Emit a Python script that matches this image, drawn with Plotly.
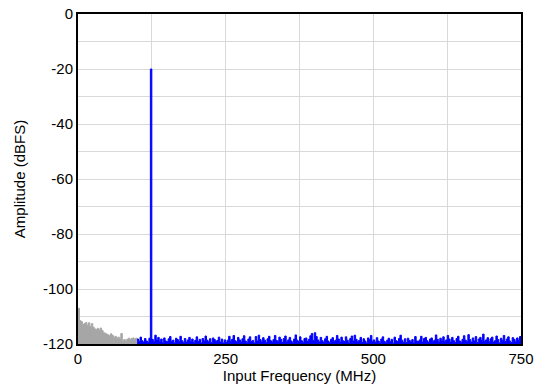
import plotly.graph_objects as go

# Frequency grid step (MHz)
step = 2.5

# Low-frequency (gray) segment: 0 .. 100 MHz
gray_freq = [i * step for i in range(41)]
gray_amp = [-107.0, -111.5, -111.9, -112.9, -112.6, -112.2, -113.2, -112.3, -113.6, -112.6,
            -113.9, -114.5, -114.8, -114.3, -114.9, -114.2, -115.1, -115.9, -116.1, -116.4,
            -116.7, -117.0, -116.3, -116.9, -117.6, -117.2, -117.9, -117.5, -118.1, -116.2,
            -118.8, -118.4, -119.0, -118.3, -117.9, -118.4, -118.0, -117.8, -118.3, -117.9,
            -118.2]

# Main (blue) segment: 100 .. 750 MHz
blue_freq = [100 + i * step for i in range(261)]
blue_amp = [
    -118.2, -119.0, -117.5, -118.8, -119.3, -118.0, -118.9, -119.4, -117.9, -20.0,
    -118.3, -119.1, -116.8, -118.5, -117.6, -119.0, -118.2, -119.5, -117.8, -118.9,
    -119.2, -118.1, -117.3, -119.0, -118.6, -119.6, -117.9, -118.4, -119.1, -117.2,
    -118.8, -119.4, -118.0, -119.3, -118.5, -117.6, -119.0, -118.2, -119.5, -118.7,
    -117.4, -119.1, -118.3, -119.6, -118.0, -118.9, -117.1, -118.6, -119.2, -118.1,
    -119.5, -117.8, -118.4, -119.0, -118.7, -117.5, -119.3, -118.2, -119.6, -118.5,
    -119.4, -118.6, -117.2, -119.0, -118.3, -116.9, -118.8, -119.2, -117.6, -118.5,
    -119.3, -118.1, -117.0, -118.9, -119.5, -118.2, -117.4, -119.1, -118.7, -119.6,
    -117.3, -118.9, -116.8, -118.4, -119.2, -117.7, -118.6, -119.5, -118.1, -117.2,
    -118.8, -119.3, -118.4, -116.9, -118.7, -119.0, -117.5, -118.3, -119.4, -118.0,
    -117.1, -119.2, -118.5, -117.6, -118.9, -119.5, -118.2, -116.7, -118.6, -119.1,
    -117.4, -118.8, -119.4, -118.0, -117.8, -119.0, -118.3, -117.0, -116.2, -118.7,
    -115.9, -117.3, -118.5, -119.2, -117.6, -118.8, -119.4, -118.1, -117.2, -118.9,
    -119.5, -118.3, -117.7, -119.0, -118.6, -116.9, -118.2, -119.3, -117.5, -118.8,
    -119.1, -117.4, -118.6, -119.5, -118.0, -117.1, -118.9, -116.8, -118.3, -119.2,
    -118.7, -117.6, -119.4, -118.1, -118.9, -119.6, -117.8, -118.4, -116.9, -119.0,
    -118.5, -119.3, -117.7, -118.9, -119.6, -118.2, -117.4, -119.0, -119.5, -118.6,
    -117.9, -119.2, -118.3, -119.7, -117.5, -118.8, -119.1, -118.0, -116.8, -118.6,
    -119.4, -118.1, -119.5, -117.9, -118.7, -119.2, -118.4, -119.6, -117.3, -118.9,
    -119.1, -118.5, -117.2, -119.3, -118.0, -117.6, -118.8, -119.4, -118.2, -117.8,
    -119.0, -118.6, -116.7, -118.3, -119.2, -117.9, -118.7, -117.4, -119.1, -118.5,
    -116.9, -118.2, -119.3, -117.6, -118.8, -119.5, -118.0, -117.2, -118.9, -119.4,
    -118.3, -117.0, -118.6, -119.1, -116.6, -118.4, -119.3, -117.8, -118.9, -117.3,
    -119.5, -118.2, -117.6, -118.7, -116.4, -119.0, -118.5, -117.7, -119.2, -118.1,
    -117.5, -119.3, -118.8, -117.1, -118.4, -119.6, -117.9, -118.6, -116.9, -119.1,
    -118.2, -117.4, -118.9, -119.5, -117.7, -118.3, -119.2, -117.8, -118.6, -117.3,
    -118.0,
]

floor_db = -120
x_ticks = [0, 250, 500, 750]
y_ticks = [0, -20, -40, -60, -80, -100, -120]

GRAY = "#A6A6A6"
BLUE = "#0000FF"

fig = go.Figure()

def add_segment(xs, ys, color):
    fig.add_trace(go.Scatter(x=xs, y=[floor_db] * len(xs), mode="lines",
                             line=dict(width=0, shape="hv"), hoverinfo="skip",
                             showlegend=False))
    fig.add_trace(go.Scatter(x=xs, y=ys, mode="lines", fill="tonexty",
                             fillcolor=color, line=dict(color=color, width=1, shape="hv"),
                             showlegend=False))

add_segment(gray_freq, gray_amp, GRAY)
add_segment(blue_freq, blue_amp, BLUE)

font_family = "Liberation Sans, Arial, sans-serif"

fig.update_layout(
    width=541, height=389,
    margin=dict(l=78, r=20, t=14, b=45, autoexpand=False),
    paper_bgcolor="white", plot_bgcolor="white",
    font=dict(family=font_family, size=15, color="black"),
    showlegend=False,
)

fig.update_xaxes(
    range=[0, 750], tickvals=x_ticks, ticktext=[str(v) for v in x_ticks],
    showgrid=True, gridcolor="#D9D9D9", gridwidth=1,
    minor=dict(dtick=125, tick0=0, showgrid=True, gridcolor="#D9D9D9", gridwidth=1),
    showline=True, linecolor="black", linewidth=2, mirror=True,
    ticks="", zeroline=False, automargin=False,
    title=dict(text="Input Frequency (MHz)", standoff=4, font=dict(size=15)),
    tickfont=dict(size=15),
)
fig.update_yaxes(
    range=[-120, 0], tickvals=y_ticks, ticktext=[str(v) for v in y_ticks],
    showgrid=True, gridcolor="#D9D9D9", gridwidth=1,
    minor=dict(dtick=10, tick0=0, showgrid=True, gridcolor="#D9D9D9", gridwidth=1),
    showline=True, linecolor="black", linewidth=2, mirror=True,
    ticks="", zeroline=False, automargin=False,
    title=dict(text="Amplitude (dBFS)", standoff=14, font=dict(size=15)),
    tickfont=dict(size=15),
)

fig.write_html("out.html", config={"displayModeBar": False},
               post_script="document.body.style.margin='0';")
